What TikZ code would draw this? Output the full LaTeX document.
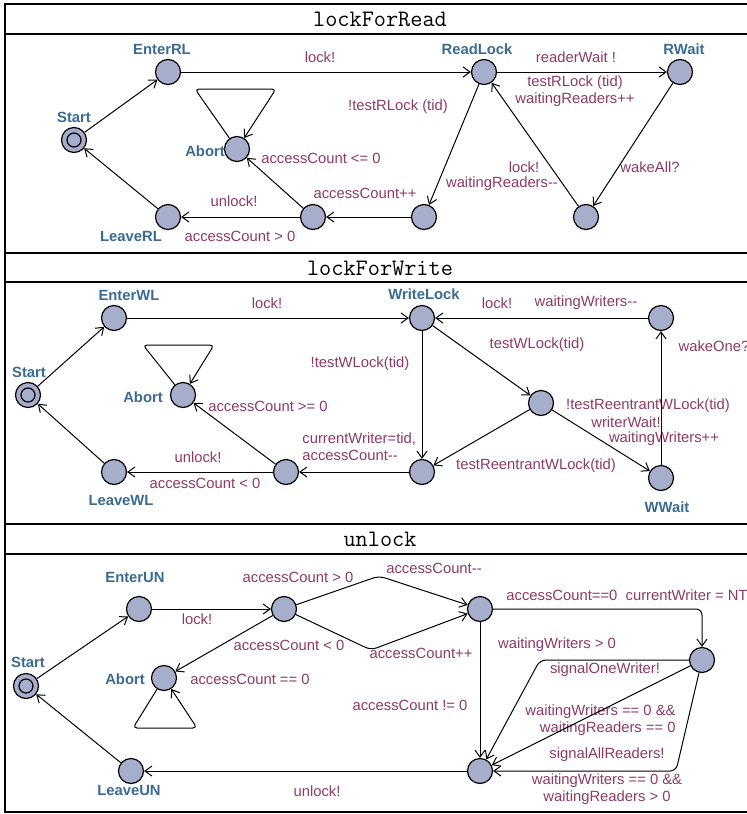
\documentclass[tikz,border=0pt]{standalone}
\usepackage{fontspec}
\newfontfamily\uppfont{Liberation Sans}
\usetikzlibrary{arrows.meta}
\definecolor{locfill}{HTML}{A6AECB}
\definecolor{namecol}{HTML}{3B6B92}
\definecolor{labcol}{HTML}{8E3A64}
\begin{document}
\begin{tikzpicture}[x=0.5pt,y=-0.5pt,>={Straight Barb[length=3.5pt,width=5pt]},
  loc/.style={circle,draw,line width=0.6pt,fill=locfill,minimum size=12.5pt,inner sep=0pt},
  init/.style={loc,path picture={\draw[line width=0.6pt] (path picture bounding box.center) circle (3.5pt);}},
  locname/.style={text=namecol,font=\uppfont\bfseries\fontsize{7.4}{8}\selectfont,inner sep=0pt},
  lab/.style={text=labcol,font=\uppfont\fontsize{7.4}{8.6}\selectfont,inner sep=0pt},
  paneltitle/.style={font=\ttfamily\fontsize{11.8}{12}\selectfont,inner sep=0pt},
  trans/.style={->,line width=0.5pt},
  panelline/.style={line width=1.2pt}]
\useasboundingbox (0,0) rectangle (747,814);
\draw[panelline] (5,4) rectangle (760,812);
\foreach \y in {34,253,282,524,554}
  \draw[panelline] (5,\y) -- (760,\y);
\node[paneltitle] (t1) at (380,19) {lockForRead};
\node[paneltitle] (t2) at (380,268) {lockForWrite};
\node[paneltitle] (t3) at (380,539) {unlock};

% lockForRead
\node[init] (Start1) at (74,140) {};
\node[loc] (EnterRL) at (168,72) {};
\node[loc] (ReadLock) at (484,72) {};
\node[loc] (RWait) at (680,72) {};
\node[loc] (Abort1) at (237,149) {};
\node[loc] (LeaveRL) at (168,217) {};
\node[loc] (acc1) at (313,217) {};
\node[loc] (test1) at (424,217) {};
\node[loc] (wake1) at (586,217) {};
\node[locname] (nStart1) at (74,117) {Start};
\node[locname] (nEnterRL) at (162,49) {EnterRL};
\node[locname] (nReadLock) at (477,49) {ReadLock};
\node[locname] (nRWait) at (684,49) {RWait};
\node[locname] (nAbort1) at (205,151) {Abort};
\node[locname] (nLeaveRL) at (131,236) {LeaveRL};
\node[lab] (l1) at (320,57) {lock!};
\node[lab] (l2) at (576,57) {readerWait !};
\node[lab,align=center] (l3) at (575,91) {testRLock (tid)\\waitingReaders++};
\node[lab] (l4) at (398,107) {!testRLock (tid)};
\node[lab] (l5) at (321,158) {accessCount <= 0};
\node[lab] (l6) at (524,167) {lock!};
\node[lab] (l7) at (502,184) {waitingReaders-{}-};
\node[lab] (l8) at (650,167) {wakeAll?};
\node[lab] (l9) at (365,193) {accessCount++};
\node[lab] (l10) at (234,201) {unlock!};
\node[lab] (l11) at (240,236) {accessCount > 0};
\coordinate (loop1a) at (195,89);
\coordinate (loop1b) at (276,89);
\draw[trans] (Start1) -- (EnterRL);
\draw[trans] (LeaveRL) -- (Start1);
\draw[trans] (EnterRL) -- (ReadLock);
\draw[trans] (ReadLock) -- (RWait);
\draw[trans] (RWait) -- (wake1);
\draw[trans] (wake1) -- (ReadLock);
\draw[trans] (ReadLock) -- (test1);
\draw[trans] (test1) -- (acc1);
\draw[trans] (acc1) -- (LeaveRL);
\draw[trans] (acc1) -- (Abort1);
\draw[trans,rounded corners=2pt] (Abort1) -- (loop1a) -- (loop1b) -- (Abort1);

% lockForWrite
\node[init] (Start2) at (28,395) {};
\node[loc] (EnterWL) at (114,318) {};
\node[loc] (WriteLock) at (422,318) {};
\node[loc] (wake2) at (661,318) {};
\node[loc] (Abort2) at (183,395) {};
\node[loc] (reent2) at (541,403) {};
\node[loc] (WWait) at (661,478) {};
\node[loc] (LeaveWL) at (114,472) {};
\node[loc] (acc2) at (286,472) {};
\node[loc] (test2) at (422,472) {};
\node[locname] (nStart2) at (29,372) {Start};
\node[locname] (nEnterWL) at (129,295) {EnterWL};
\node[locname] (nWriteLock) at (424,294) {WriteLock};
\node[locname] (nAbort2) at (143,397) {Abort};
\node[locname] (nLeaveWL) at (121,500) {LeaveWL};
\node[locname] (nWWait) at (667,507) {WWait};
\node[lab] (m1) at (267,303) {lock!};
\node[lab] (m2) at (497,303) {lock!};
\node[lab] (m3) at (586,303) {waitingWriters-{}-};
\node[lab] (m4) at (714,346) {wakeOne?};
\node[lab] (m5) at (537,345) {testWLock(tid)};
\node[lab] (m6) at (360,364) {!testWLock(tid)};
\node[lab] (m7) at (268,406) {accessCount >= 0};
\node[lab] (m8) at (648,406) {!testReentrantWLock(tid)};
\node[lab] (m9) at (626,422) {writerWait!};
\node[lab] (m10) at (664,439) {waitingWriters++};
\node[lab,align=left,anchor=west] (m11) at (302,447) {currentWriter=tid,\\accessCount-{}-};
\node[lab] (m12) at (536,466) {testReentrantWLock(tid)};
\node[lab] (m13) at (198,457) {unlock!};
\node[lab] (m14) at (205,483) {accessCount < 0};
\coordinate (loop2a) at (143,345);
\coordinate (loop2b) at (214,345);
\draw[trans] (Start2) -- (EnterWL);
\draw[trans] (LeaveWL) -- (Start2);
\draw[trans] (EnterWL) -- (WriteLock);
\draw[trans] (wake2) -- (WriteLock);
\draw[trans] (WWait) -- (wake2);
\draw[trans] (WriteLock) -- (reent2);
\draw[trans] (WriteLock) -- (test2);
\draw[trans] (reent2) -- (test2);
\draw[trans] (reent2) -- (WWait);
\draw[trans] (test2) -- (acc2);
\draw[trans] (acc2) -- (LeaveWL);
\draw[trans] (acc2) -- (Abort2);
\draw[trans,rounded corners=2pt] (Abort2) -- (loop2a) -- (loop2b) -- (Abort2);

% unlock
\node[init] (Start3) at (26,686) {};
\node[loc] (EnterUN) at (139,609) {};
\node[loc] (dec3) at (284,609) {};
\node[loc] (zero3) at (480,609) {};
\node[loc] (sig3) at (702,660) {};
\node[loc] (Abort3) at (164,678) {};
\node[loc] (LeaveUN) at (131,771) {};
\node[loc] (done3) at (480,771) {};
\node[locname] (nStart3) at (28,662) {Start};
\node[locname] (nEnterUN) at (135,577) {EnterUN};
\node[locname] (nAbort3) at (125,679) {Abort};
\node[locname] (nLeaveUN) at (129,790) {LeaveUN};
\node[lab] (u1) at (197,619) {lock!};
\node[lab] (u2) at (298,577) {accessCount > 0};
\node[lab] (u3) at (434,568) {accessCount-{}-};
\node[lab] (u4) at (289,645) {accessCount < 0};
\node[lab] (u5) at (421,653) {accessCount++};
\node[lab] (u6) at (250,679) {accessCount == 0};
\node[lab,anchor=west] (u7) at (506,595) {accessCount==0\ \ currentWriter = NT};
\node[lab] (u8) at (557,645) {waitingWriters > 0};
\node[lab] (u9) at (605,670) {signalOneWriter!};
\node[lab] (u10) at (410,705) {accessCount != 0};
\node[lab,align=right,anchor=east] (u11) at (676,720) {waitingWriters == 0 \&\&\\waitingReaders == 0};
\node[lab] (u12) at (607,755) {signalAllReaders!};
\node[lab,align=center] (u13) at (607,789) {waitingWriters == 0 \&\&\\waitingReaders > 0};
\node[lab] (u14) at (317,791) {unlock!};
\coordinate (up3) at (379,576);
\coordinate (lo3) at (371,650);
\coordinate (loop3a) at (133,728);
\coordinate (loop3b) at (197,728);
\coordinate (one3) at (540,660);
\coordinate (all3) at (676,771);
\draw[trans] (Start3) -- (EnterUN);
\draw[trans] (LeaveUN) -- (Start3);
\draw[trans] (EnterUN) -- (dec3);
\draw[trans,rounded corners=3pt] (dec3) -- (up3) -- (zero3);
\draw[trans,rounded corners=3pt] (dec3) -- (lo3) -- (zero3);
\draw[trans] (dec3) -- (Abort3);
\draw[trans,rounded corners=2pt] (Abort3) -- (loop3a) -- (loop3b) -- (Abort3);
\draw[trans,rounded corners=3pt] (zero3) -| (sig3);
\draw[trans] (zero3) -- (done3);
\draw[trans,rounded corners=3pt] (sig3) -- (one3) -- (done3);
\draw[trans] (sig3) -- (done3);
\draw[trans,rounded corners=3pt] (sig3) -- (all3) -- (done3);
\draw[trans] (done3) -- (LeaveUN);
\end{tikzpicture}
\end{document}
